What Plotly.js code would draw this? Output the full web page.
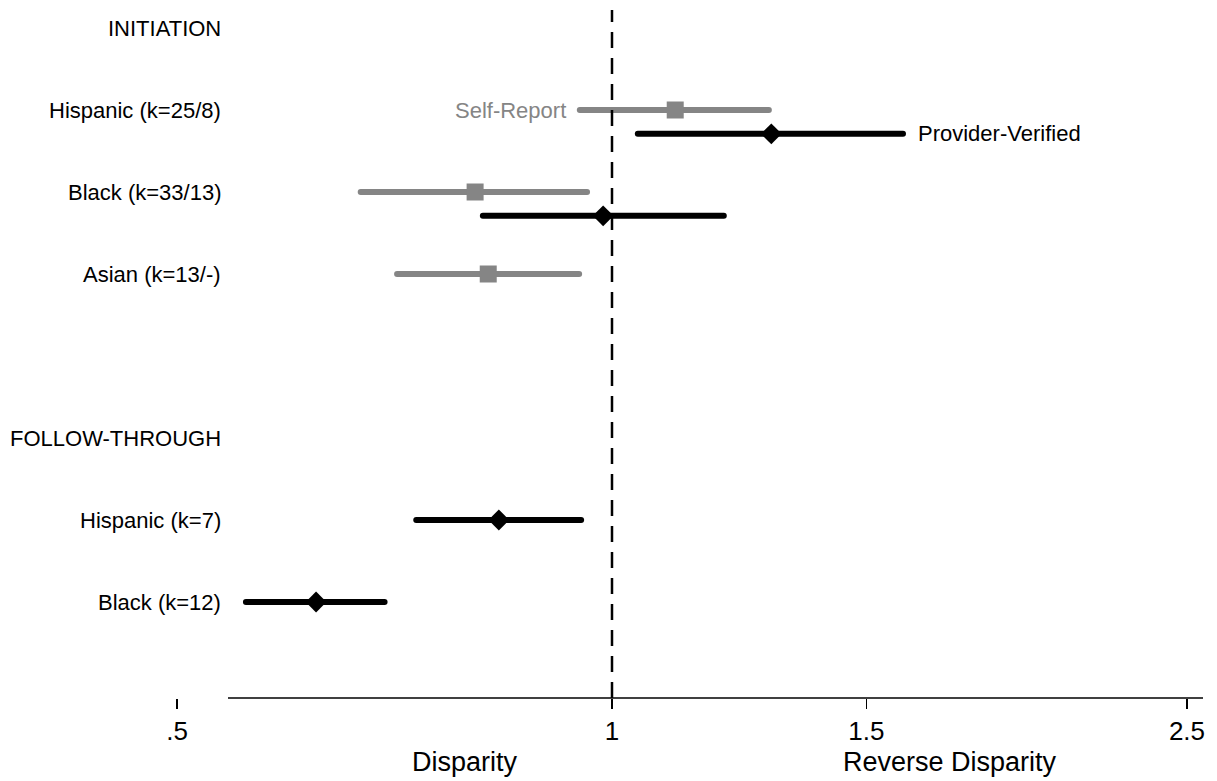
<!DOCTYPE html>
<html>
<head>
<meta charset="utf-8">
<script src="https://cdn.plot.ly/plotly-3.0.1.min.js"></script>
<style>html,body{margin:0;padding:0;background:#fff;}#chart{width:1217px;height:781px;}</style>
</head>
<body>
<div id="chart"></div>
<script>
// Row labels (top to bottom)
const rowLabels = ['INITIATION', 'Hispanic (k=25/8)', 'Black (k=33/13)', 'Asian (k=13/-)', '', 'FOLLOW-THROUGH', 'Hispanic (k=7)', 'Black (k=12)'];

// Self-Report estimates (initiation only)
const selfRows = [1, 2, 3];
const selfEst = [1.106, 0.804, 0.821];
const selfLo  = [0.950, 0.670, 0.710];
const selfHi  = [1.284, 0.961, 0.949];

// Provider-Verified estimates
const provRows = [1, 2, 6, 7];
const provSection = ['init', 'init', 'follow', 'follow'];
const provEst = [1.289, 0.986, 0.835, 0.624];
const provLo  = [1.042, 0.814, 0.732, 0.558];
const provHi  = [1.590, 1.195, 0.952, 0.696];

// x ticks
const xTickVals = [0.5, 1, 1.5, 2.5];
const xTickText = ['.5', '1', '1.5', '2.5'];

const GRAY = '#858585';
const BLACK = '#000000';
const FONT = 'Liberation Sans, Arial, Helvetica, sans-serif';
const provOffset = 0.29;
const provY = provRows.map((r, i) => provSection[i] === 'init' ? r + provOffset : r);

function segs(lo, hi, ys) {
  const x = [], y = [];
  lo.forEach((l, i) => { x.push(l, hi[i], null); y.push(ys[i], ys[i], null); });
  return {x, y};
}
const sS = segs(selfLo, selfHi, selfRows);
const pS = segs(provLo, provHi, provY);

const traces = [
  {type: 'scatter', mode: 'lines', x: sS.x, y: sS.y, line: {color: GRAY, width: 6}, hoverinfo: 'skip', showlegend: false},
  {type: 'scatter', mode: 'markers', x: selfEst, y: selfRows, marker: {symbol: 'square', size: 17, color: GRAY}, showlegend: false},
  {type: 'scatter', mode: 'lines', x: pS.x, y: pS.y, line: {color: BLACK, width: 6}, hoverinfo: 'skip', showlegend: false},
  {type: 'scatter', mode: 'markers', x: provEst, y: provY, marker: {symbol: 'diamond', size: 16, color: BLACK}, showlegend: false}
];

const L = 150, W = 1217, PW = W - L;
const pxToPaperX = p => (p - L) / PW;

const annotations = rowLabels.map((t, i) => ({
  xref: 'paper', yref: 'y', x: pxToPaperX(223), y: i, text: t, showarrow: false,
  xanchor: 'right', yanchor: 'middle', font: {family: FONT, size: 22, color: '#000'}
})).filter(a => a.text !== '');

annotations.push({
  xref: 'x', yref: 'y', x: Math.log10(selfLo[0]), y: selfRows[0], text: 'Self-Report', showarrow: false,
  xanchor: 'right', yanchor: 'middle', xshift: -12, font: {family: FONT, size: 22, color: GRAY}
});
annotations.push({
  xref: 'x', yref: 'y', x: Math.log10(provHi[0]), y: provY[0], text: 'Provider-Verified', showarrow: false,
  xanchor: 'left', yanchor: 'middle', xshift: 13, font: {family: FONT, size: 22, color: BLACK}
});
annotations.push({
  xref: 'paper', yref: 'paper', x: pxToPaperX(465), y: (698 - 762) / 698, text: 'Disparity', showarrow: false,
  xanchor: 'center', yanchor: 'middle', font: {family: FONT, size: 27, color: '#000'}
});
annotations.push({
  xref: 'paper', yref: 'paper', x: pxToPaperX(950), y: (698 - 762) / 698, text: 'Reverse Disparity', showarrow: false,
  xanchor: 'center', yanchor: 'middle', font: {family: FONT, size: 27, color: '#000'}
});

const shapes = [
  {type: 'line', xref: 'paper', yref: 'paper', x0: pxToPaperX(228), x1: pxToPaperX(1203), y0: 0, y1: 0,
   line: {color: '#000', width: 1.5}, layer: 'above'},
  {type: 'line', xref: 'x', yref: 'paper', x0: 1, x1: 1, y0: 0, y1: 1 - 10 / 698,
   line: {color: '#000', width: 2.5, dash: '16px,10px'}, layer: 'above'}
];

const layout = {
  width: 1217, height: 781,
  margin: {l: L, r: 0, t: 0, b: 83, pad: 0},
  paper_bgcolor: '#fff', plot_bgcolor: '#fff',
  font: {family: FONT, color: '#000'},
  xaxis: {
    type: 'log',
    range: [Math.log10(Math.exp((150 - 612) / 627.5)), Math.log10(Math.exp((1217 - 612) / 627.5))],
    tickvals: xTickVals, ticktext: xTickText,
    ticks: 'outside', ticklen: 10, tickwidth: 1.5, tickcolor: '#000',
    showgrid: false, zeroline: false, showline: false,
    tickfont: {family: FONT, size: 26, color: '#000'}
  },
  yaxis: {
    range: [(698 - 28) / 82, (0 - 28) / 82],
    showticklabels: false, ticks: '', showgrid: false, zeroline: false, showline: false
  },
  annotations: annotations,
  shapes: shapes,
  showlegend: false
};

Plotly.newPlot('chart', traces, layout, {staticPlot: true, displayModeBar: false}).then(() => {
  document.querySelectorAll('.scatterlayer .js-line').forEach(p => { p.style.strokeLinecap = 'round'; });
});
</script>
</body>
</html>
